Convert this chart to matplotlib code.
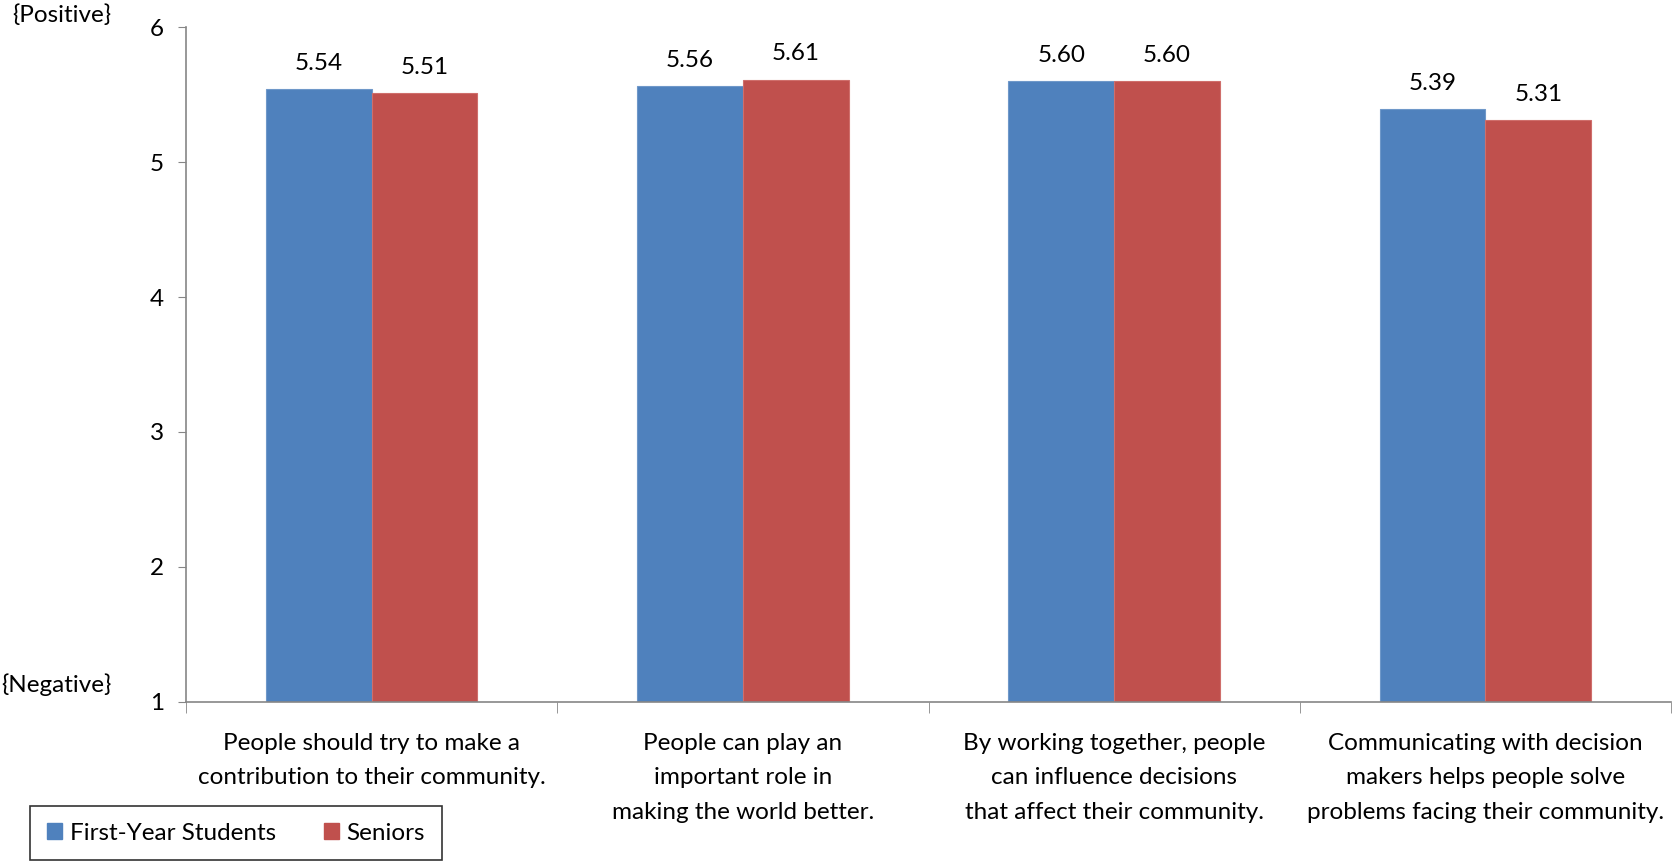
import numpy as np
import matplotlib.pyplot as plt
from matplotlib.patches import Patch

plt.rcParams['font.family'] = ['Lato', 'DejaVu Sans']

categories = [
    "People should try to make a\ncontribution to their community.",
    "People can play an\nimportant role in\nmaking the world better.",
    "By working together, people\ncan influence decisions\nthat affect their community.",
    "Communicating with decision\nmakers helps people solve\nproblems facing their community.",
]
first_year = [5.54, 5.56, 5.60, 5.39]
seniors = [5.51, 5.61, 5.60, 5.31]
series_names = ["First-Year Students", "Seniors"]

blue = "#4F81BD"
red = "#C0504D"
axis_gray = "#868686"
fs = 17.5

fig = plt.figure(figsize=(16.73, 8.61), dpi=100)
ax = fig.add_axes([0.1112, 0.1847, 0.8876, 0.7839])

x = np.arange(len(categories))
w = 0.285
ax.bar(x - w / 2, np.array(first_year) - 1, w, bottom=1, color=blue,
       edgecolor="#6f98c9", linewidth=0.8)
ax.bar(x + w / 2, np.array(seniors) - 1, w, bottom=1, color=red,
       edgecolor="#cf6e6b", linewidth=0.8)

for xs, vals in ((x - w / 2, first_year), (x + w / 2, seniors)):
    for xi, v in zip(xs, vals):
        ax.annotate(f"{v:.2f}", (xi, v), xytext=(0, 11), textcoords="offset points",
                    ha="center", va="bottom", fontsize=fs)

ax.set_xlim(-0.5, len(categories) - 0.5)
ax.set_ylim(1, 6)
ax.set_yticks(range(1, 7))
ax.tick_params(axis="y", direction="out", length=6, color=axis_gray,
               labelsize=fs, pad=10)

ax.set_xticks(x)
ax.set_xticklabels(categories, fontsize=fs, linespacing=1.82, va="top")
ax.tick_params(axis="x", length=0, pad=22)
ax.set_xticks(np.arange(-0.5, len(categories)), minor=True)
ax.tick_params(axis="x", which="minor", direction="out", length=8, color=axis_gray)

for side in ("top", "right"):
    ax.spines[side].set_visible(False)
for side in ("left", "bottom"):
    ax.spines[side].set_color(axis_gray)
    ax.spines[side].set_linewidth(1.2)

fig.text(0.007, 0.982, "{Positive}", fontsize=fs, ha="left", va="center")
fig.text(0.001, 0.205, "{Negative}", fontsize=fs, ha="left", va="center")

handles = [Patch(color=blue), Patch(color=red)]
leg = fig.legend(handles, series_names, loc="lower left",
                 bbox_to_anchor=(0.018, 0.001, 0.246, 0.057), mode="expand",
                 ncol=2, fontsize=fs, frameon=True, fancybox=False,
                 handlelength=0.65, handleheight=0.65, handletextpad=0.3,
                 columnspacing=0.6, borderpad=0.68, borderaxespad=0)
leg.get_frame().set_edgecolor("black")
leg.get_frame().set_linewidth(1.2)

fig.savefig("out.png", dpi=100)
